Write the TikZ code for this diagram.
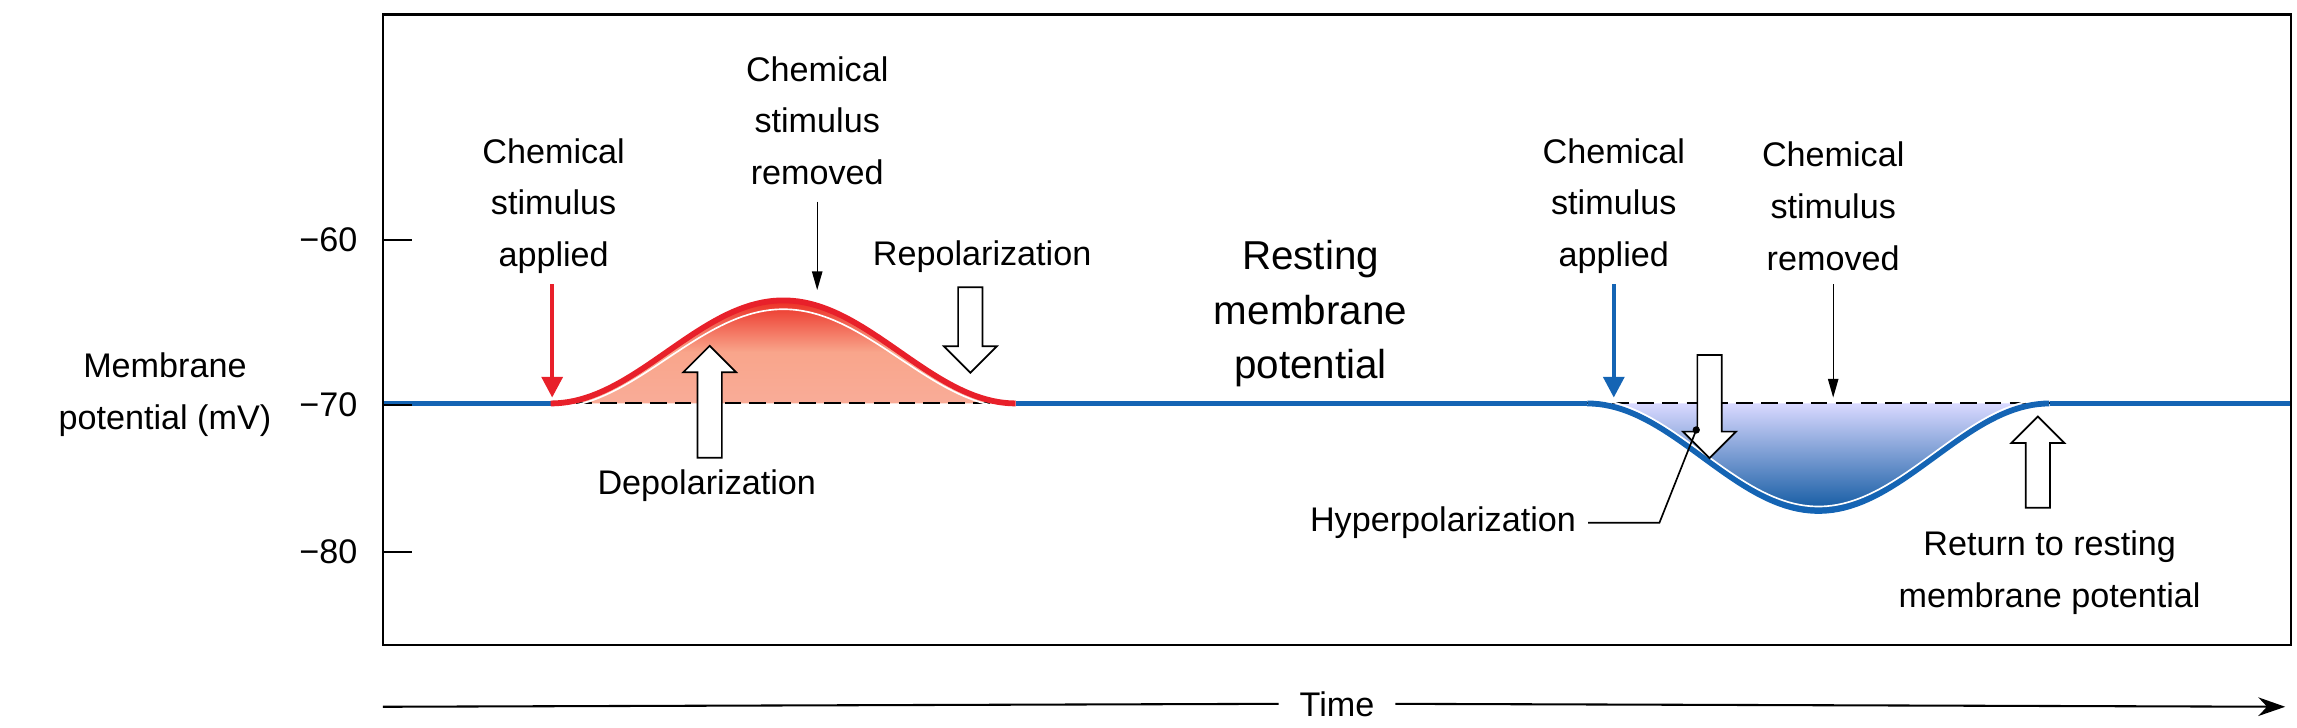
\documentclass[tikz,border=0pt]{standalone}
\usepackage{fontspec}
\setmainfont{Liberation Sans}
\usetikzlibrary{shapes.arrows,arrows.meta}
\definecolor{rd}{HTML}{E8202A}
\definecolor{bl}{HTML}{1464B4}
\begin{document}
\begin{tikzpicture}[x=0.025cm,y=-0.025cm,
  lab/.style={font=\fontsize{16.5}{25}\selectfont,align=center,inner sep=0},
  big/.style={font=\fontsize{19.5}{26.5}\selectfont,align=center,inner sep=0},
  hol/.style={single arrow,draw=black,fill=white,line width=0.8pt,minimum width=0.9cm,single arrow head extend=0.24cm,single arrow head indent=0cm,inner xsep=0,inner ysep=0.19cm,minimum height=#1},
  sarr/.style={-{Triangle[length=10pt,width=10pt]},line width=2pt},
  tarr/.style={-{Triangle[length=9pt,width=5pt]},line width=0.6pt}]
\useasboundingbox (0,0) rectangle (1560,494);
% fills
\shade[top color=rd!85!orange,bottom color=orange!40!rd!45!white,middle color=orange!45!rd!50!white]
  (374,274) -- plot[domain=0:1,samples=60] ({374+316*\x},{274-70*(1-cos(360*\x))/2}) -- cycle;
\shade[top color=blue!15!white,bottom color=bl!90!black]
  (1078,274) -- plot[domain=0:1,samples=60] ({1078+314*\x},{274+73*(1-cos(360*\x))/2}) -- cycle;
\draw[line width=1pt,dash pattern=on 8pt off 4pt] (374,274) -- (690,274) (1078,274) -- (1392,274);
% curves
\draw[bl,line width=2.8pt] (260,274) -- (374,274) (690,274) -- (1078,274) (1392,274) -- (1556,274);
\draw[rd,line width=2.8pt] plot[domain=0:1,samples=80] ({374+316*\x},{274-70*(1-cos(360*\x))/2});
\draw[white,line width=0.8pt] plot[domain=0.04:0.96,samples=80] ({374+316*\x},{277-67*(1-cos(360*\x))/2});
\draw[bl,line width=2.8pt] plot[domain=0:1,samples=80] ({1078+314*\x},{274+73*(1-cos(360*\x))/2});
\draw[white,line width=0.8pt] plot[domain=0.04:0.96,samples=80] ({1078+314*\x},{271+73*(1-cos(360*\x))/2});
% frame
\draw[line width=1.2pt] (260,10) rectangle (1556,438);
\foreach \v/\y in {60/163,70/275,80/375}{
  \draw[line width=1pt] (260,\y) -- (280,\y);
  \node[lab,anchor=east] (t\v) at (243,\y) {−\v};}
\node[lab] (ylab) at (112,268) {Membrane\\potential (mV)};
% texts
\node[lab] (csa1) at (376,140) {Chemical\\stimulus\\applied};
\node[lab] (csr1) at (555,82) {Chemical\\stimulus\\removed};
\node[lab] (rep) at (667,174) {Repolarization};
\node[lab] (dep) at (480,330) {Depolarization};
\node[big] (rest) at (890,213) {Resting\\membrane\\potential};
\node[lab] (csa2) at (1096,140) {Chemical\\stimulus\\applied};
\node[lab] (csr2) at (1245,140) {Chemical\\stimulus\\removed};
\node[lab] (hyp) at (980,355) {Hyperpolarization};
\node[lab] (ret) at (1392,389) {Return to resting\\membrane potential};
% arrows
\coordinate (a1) at (375,193); \coordinate (a1e) at (375,270);
\draw[sarr,rd] (a1) -- (a1e);
\coordinate (a2) at (1096,193); \coordinate (a2e) at (1096,270);
\draw[sarr,bl] (a2) -- (a2e);
\coordinate (r1) at (555,137); \coordinate (r1e) at (555,197);
\draw[tarr] (r1) -- (r1e);
\coordinate (r2) at (1245,193); \coordinate (r2e) at (1245,270);
\draw[tarr] (r2) -- (r2e);
\node[hol=1.45cm,rotate=-90] (h1) at (659,220) {};
\node[hol=1.9cm,rotate=90] (h2) at (482,277) {};
\node[hol=1.75cm,rotate=-90] (h3) at (1161,272) {};
\node[hol=1.55cm,rotate=90] (h4) at (1384,318) {};
\coordinate (hd) at (1152,292);
\fill (hd) circle (2.5);
\draw[line width=0.8pt] (hyp.east) ++(8,0) -- (1127,355) -- (hd);
% time
\node[lab] (time) at (908,478) {Time};
\coordinate (ts) at (260,480); \coordinate (te) at (1552,480);
\draw[line width=1pt] (ts) -- ([xshift=-10pt]time.west);
\draw[line width=1pt,-{Stealth[length=13pt,width=9pt]}] ([xshift=10pt]time.east) -- (te);
\end{tikzpicture}
\end{document}
